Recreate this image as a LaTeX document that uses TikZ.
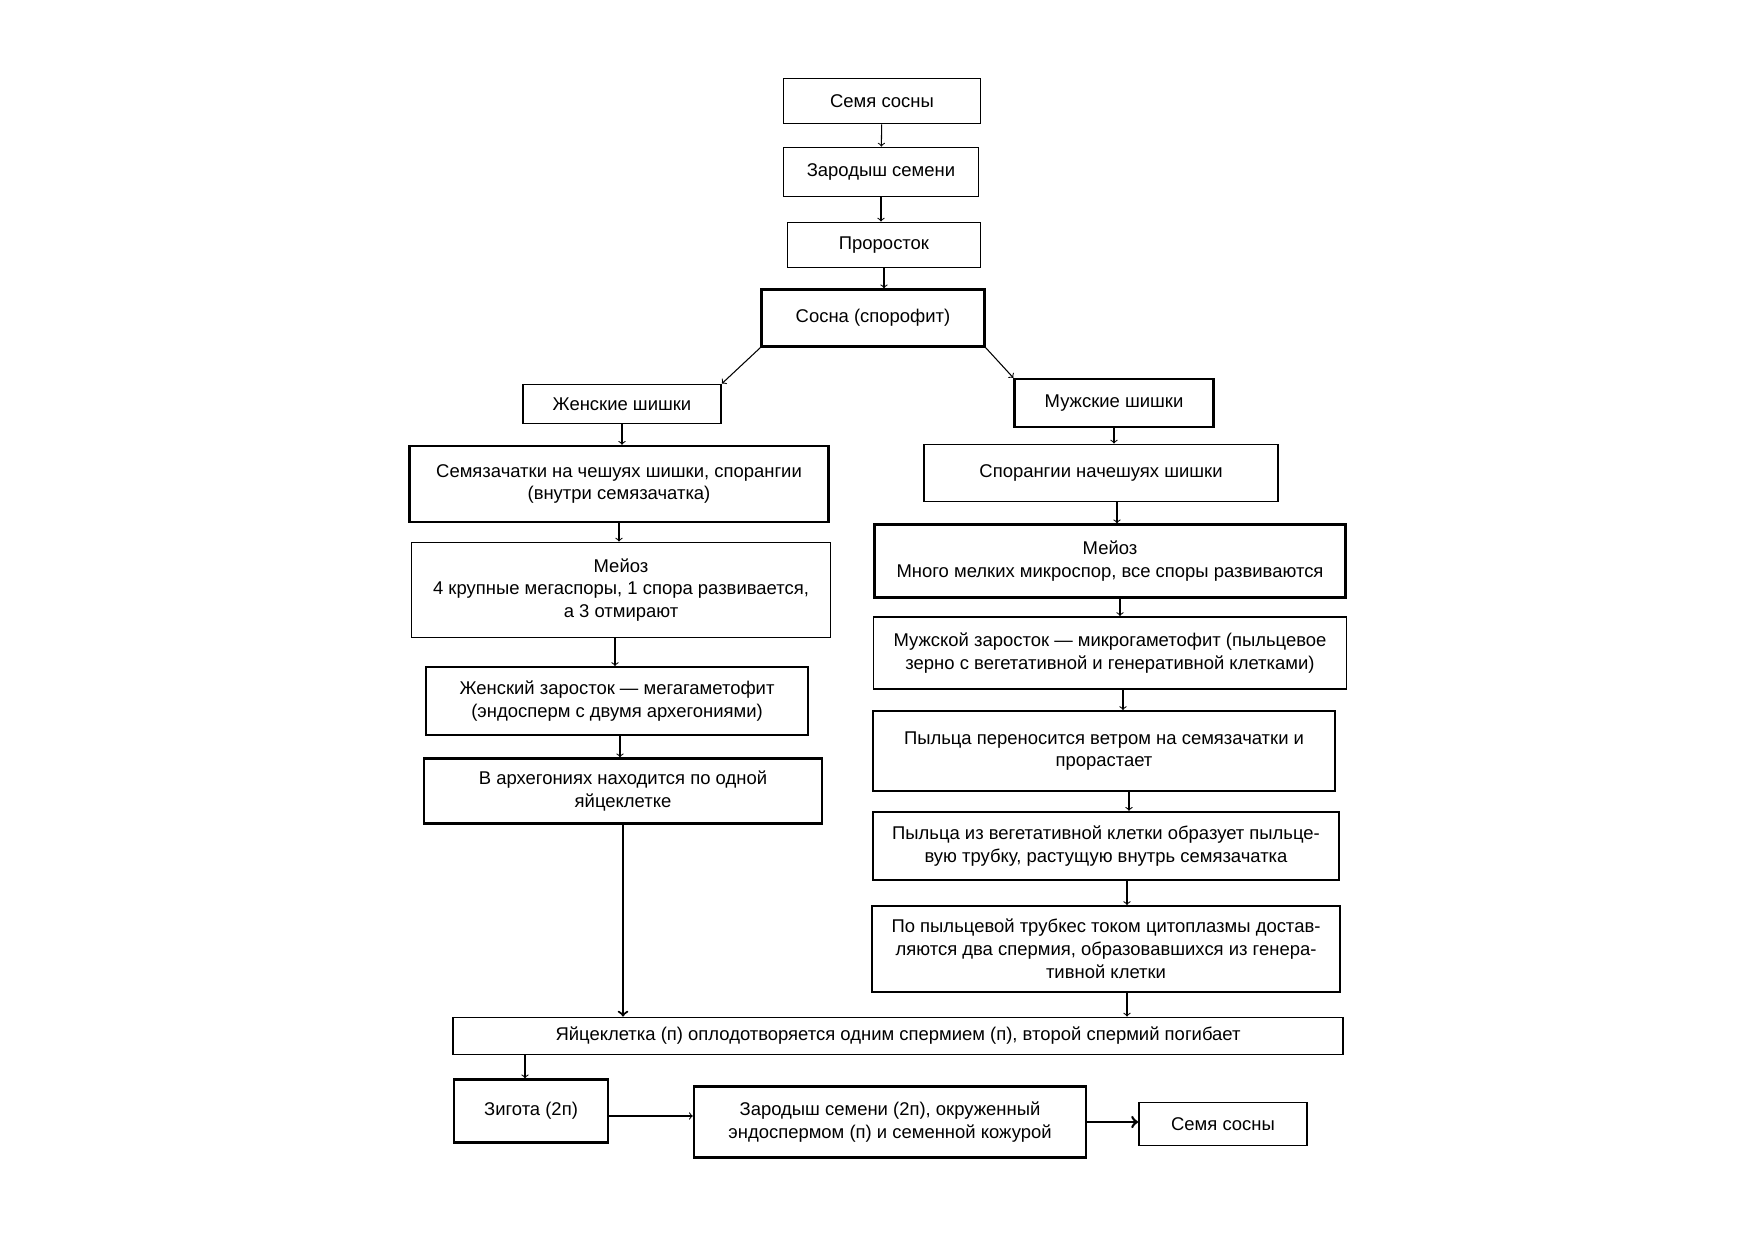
\documentclass[tikz,border=0pt]{standalone}
\usepackage{fontspec}
\setmainfont{Liberation Sans}
\begin{document}
\begin{tikzpicture}
        [
            x = 0.02cm, y = -0.02cm,
            box/.style = {draw, line width=1pt, align=center, inner sep=2pt,
                font=\fontsize{10.5}{13}\selectfont},
            wh/.style 2 args = {minimum width=#1*0.02cm, minimum height=#2*0.02cm},
            arr/.style = {->, line width=0.6pt},
        ]
        \useasboundingbox (0,0) rectangle (1752,1239);
        % top chain
        \node[box, wh={197}{45}] (seed) at (882,101) {Семя сосны};
        \node[box, wh={195}{49}] (embryo) at (881,172) {Зародыш семени};
        \node[box, wh={193}{45}] (sprout) at (884,245) {Проросток};
        \node[box, wh={223}{57}, line width=1.3pt] (pine) at (873,318) {Сосна (спорофит)};
        % female side
        \node[box, wh={198}{39}] (fcones) at (622,404) {Женские шишки};
        \node[box, wh={419}{76}, line width=1.3pt] (ovules) at (619,484)
            {Семязачатки на чешуях шишки, спорангии\\(внутри семязачатка)};
        \node[box, wh={419}{95}] (fmeiosis) at (621,590)
            {Мейоз\\4 крупные мегаспоры, 1 спора развивается,\\а 3 отмирают};
        \node[box, wh={382}{68}] (fgam) at (617,701)
            {Женский заросток — мегагаметофит\\(эндосперм с двумя архегониями)};
        \node[box, wh={398}{65}, line width=1.3pt] (arch) at (623,791)
            {В архегониях находится по одной\\яйцеклетке};
        % male side
        \node[box, wh={199}{48}, line width=1.3pt] (mcones) at (1114,403) {Мужские шишки};
        \node[box, wh={354}{57}] (spor) at (1101,473) {Спорангии начешуях шишки};
        \node[box, wh={471}{73}, line width=1.3pt] (mmeiosis) at (1110,561)
            {Мейоз\\Много мелких микроспор, все споры развиваются};
        \node[box, wh={473}{72}] (mgam) at (1110,653)
            {Мужской заросток — микрогаметофит (пыльцевое\\зерно с вегетативной и генеративной клетками)};
        \node[box, wh={462}{80}] (pollen) at (1104,751)
            {Пыльца переносится ветром на семязачатки и\\прорастает};
        \node[box, wh={466}{68}, line width=1.3pt] (tube) at (1106,846)
            {Пыльца из вегетативной клетки образует пыльце-\\вую трубку, растущую внутрь семязачатка};
        \node[box, wh={468}{86}] (sperm) at (1106,949)
            {По пыльцевой трубкес током цитоплазмы достав-\\ляются два спермия, образовавшихся из генера-\\тивной клетки};
        % bottom
        \node[box, wh={890}{37}] (fert) at (898,1036)
            {Яйцеклетка (п) оплодотворяется одним спермием (п), второй спермий погибает};
        \node[box, wh={154}{63}, line width=1.3pt] (zyg) at (531,1111) {Зигота (2п)};
        \node[box, wh={392}{71}, line width=1.3pt] (embryo2) at (890,1122)
            {Зародыш семени (2п), окруженный\\эндоспермом (п) и семенной кожурой};
        \node[box, wh={168}{43}] (seed2) at (1223,1124) {Семя сосны};

        \draw[arr] (seed) -- (embryo);
        \draw[arr] (embryo) -- (embryo.south |- sprout.north);
        \draw[arr] (sprout) -- (sprout.south |- pine.north);
        \draw[arr] (pine.south west) -- (fcones.north east);
        \draw[arr] (pine.south east) -- (mcones.north west);
        \draw[arr] (fcones) -- (fcones.south |- ovules.north);
        \draw[arr] (ovules) -- (ovules.south |- fmeiosis.north);
        \draw[arr] ([xshift=-6*0.02cm]fmeiosis.south) -- ([xshift=-6*0.02cm]fmeiosis.south |- fgam.north);
        \draw[arr] ([xshift=3*0.02cm]fgam.south) -- ([xshift=3*0.02cm]fgam.south |- arch.north);
        \draw[arr, line width=1.2pt] (arch) -- (arch.south |- fert.north);
        \draw[arr] (mcones) -- (mcones.south |- spor.north);
        \draw[arr] ([xshift=16*0.02cm]spor.south) -- ([xshift=16*0.02cm]spor.south |- mmeiosis.north);
        \draw[arr] ([xshift=10*0.02cm]mmeiosis.south) -- ([xshift=10*0.02cm]mmeiosis.south |- mgam.north);
        \draw[arr] ([xshift=13*0.02cm]mgam.south) -- ([xshift=13*0.02cm]mgam.south |- pollen.north);
        \draw[arr] ([xshift=25*0.02cm]pollen.south) -- ([xshift=25*0.02cm]pollen.south |- tube.north);
        \draw[arr] ([xshift=21*0.02cm]tube.south) -- ([xshift=21*0.02cm]tube.south |- sperm.north);
        \draw[arr] ([xshift=21*0.02cm]sperm.south) -- ([xshift=21*0.02cm]sperm.south |- fert.north);
        \draw[arr] ([xshift=-6*0.02cm]zyg.north |- fert.south) -- ([xshift=-6*0.02cm]zyg.north);
        \draw[arr] ([yshift=-5*0.02cm]zyg.east) -- ([yshift=-5*0.02cm]zyg.east -| embryo2.west);
        \draw[arr, line width=1.5pt] (embryo2.east) -- (embryo2.east -| seed2.west);
\end{tikzpicture}
\end{document}
